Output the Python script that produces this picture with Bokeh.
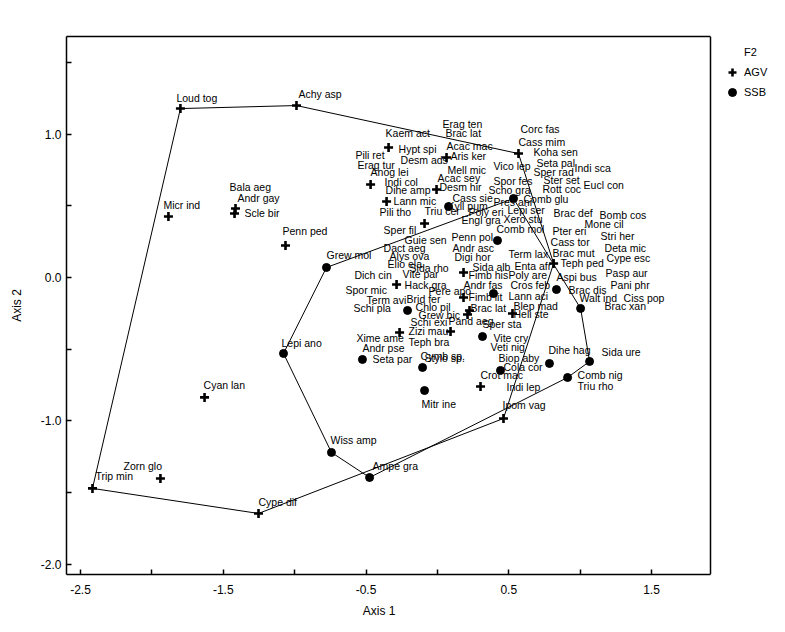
from bokeh.plotting import figure
from bokeh.models import (Range1d, FixedTicker, PrintfTickFormatter, Legend, LegendItem,
                          ColumnDataSource, LinearAxis, Span, Label, Title)
from bokeh.core.properties import value
from bokeh.embed import file_html
from bokeh.resources import INLINE

FONT = "Liberation Sans"

# ---- species labels (NMDS scores, Axis 1 / Axis 2) ----
SPECIES = [
    "Loud tog", "Achy asp", "Erag ten", "Corc fas", "Brac lat", "Kaem act", "Cass mim",
    "Acac mac", "Hypt spi", "Koha sen", "Pili ret", "Aris ker", "Desm ads", "Seta pal",
    "Erag tur", "Vico lep", "Indi sca", "Mell mic", "Anog lei", "Sper rad", "Acac sey",
    "Ster set", "Spor fes", "Indi col", "Eucl con", "Bala aeg", "Desm hir", "Rott coc",
    "Dihe amp", "Scho gra", "Andr gay", "Cass sie", "Comb glu", "Lann mic", "Pres ani",
    "Micr ind", "Kyll pum", "Lepi ser", "Triu cer", "Pili tho", "Poly eri", "Scle bir",
    "Brac def", "Bomb cos", "Xero stu", "Engl gra", "Mone cil", "Comb mol", "Sper fil",
    "Penn ped", "Pter eri", "Stri her", "Penn pol", "Guie sen", "Cass tor", "Dact aeg",
    "Andr asc", "Deta mic", "Brac mut", "Term lax", "Grew mol", "Alys ova", "Digi hor",
    "Cype esc", "Teph ped", "Elio ela", "Enta afr", "Sida alb", "Sida rho", "Pasp aur",
    "Vite par", "Dich cin", "Fimb his", "Poly are", "Aspi bus", "Hack gra", "Andr fas",
    "Cros feb", "Pani phr", "Spor mic", "Brac dis", "Pere apo", "Lann aci", "Fimb lit",
    "Walt ind", "Ciss pop", "Brid fer", "Term avi", "Brac xan", "Blep mad", "Chlo pil",
    "Schi pla", "Brac lat", "Heli ste", "Grew bic", "Pand aeg", "Schi exi", "Sper sta",
    "Zizi mau", "Xime ame", "Vite cry", "Teph bra", "Lepi ano", "Veti nig", "Andr pse",
    "Dihe hag", "Sida ure", "Cymb sp.", "Stylo sp.", "Biop aby", "Seta par", "Cola cor",
    "Crot mac", "Comb nig", "Cyan lan", "Triu rho", "Indi lep", "Mitr ine", "Ipom vag",
    "Wiss amp", "Zorn glo", "Ampe gra", "Trip min", "Cype dif",
]
SPECIES_AXIS1 = [
    -1.828, -0.973, 0.036, 0.582, 0.057, -0.363, 0.568,
    0.064, -0.272, 0.673, -0.574, 0.092, -0.258, 0.694,
    -0.560, 0.393, 0.961, 0.071, -0.468, 0.673, 0.001,
    0.743, 0.393, -0.370, 1.024, -1.456, 0.015, 0.736,
    -0.363, 0.358, -1.400, 0.106, 0.603, -0.307, 0.393,
    -1.919, 0.071, 0.491, -0.090, -0.405, 0.218, -1.351,
    0.814, 1.136, 0.463, 0.169, 1.031, 0.414, -0.377,
    -1.085, 0.807, 1.143, 0.099, -0.230, 0.793, -0.377,
    0.106, 1.171, 0.807, 0.498, -0.777, -0.335, 0.120,
    1.185, 0.863, -0.349, 0.540, 0.246, -0.195, 1.178,
    -0.244, -0.581, 0.218, 0.498, 0.834, -0.230, 0.183,
    0.512, 1.213, -0.644, 0.919, -0.062, 0.498, 0.218,
    0.996, 1.304, -0.216, -0.496, 1.171, 0.533, -0.153,
    -0.588, 0.232, 0.533, -0.132, 0.078, -0.188, 0.316,
    -0.202, -0.567, 0.393, -0.202, -1.092, 0.372, -0.525,
    0.778, 1.150, -0.118, -0.090, 0.428, -0.454, 0.463,
    0.302, 0.982, -1.638, 0.982, 0.484, -0.111, 0.456,
    -0.749, -2.199, -0.454, -2.395, -1.253,
]
SPECIES_AXIS2 = [
    1.256, 1.284, 1.068, 1.033, 1.005, 1.005, 0.949,
    0.921, 0.900, 0.879, 0.858, 0.851, 0.823, 0.796,
    0.782, 0.775, 0.761, 0.747, 0.733, 0.733, 0.691,
    0.677, 0.670, 0.663, 0.649, 0.635, 0.635, 0.621,
    0.614, 0.614, 0.558, 0.558, 0.551, 0.537, 0.530,
    0.509, 0.502, 0.468, 0.461, 0.454, 0.454, 0.447,
    0.447, 0.433, 0.405, 0.398, 0.370, 0.335, 0.328,
    0.321, 0.321, 0.293, 0.286, 0.265, 0.251, 0.209,
    0.209, 0.209, 0.174, 0.167, 0.154, 0.147, 0.140,
    0.133, 0.098, 0.091, 0.077, 0.070, 0.063, 0.028,
    0.021, 0.014, 0.014, 0.014, 0.000, -0.049, -0.049,
    -0.049, -0.049, -0.084, -0.084, -0.091, -0.126, -0.133,
    -0.140, -0.140, -0.147, -0.154, -0.202, -0.202, -0.209,
    -0.216, -0.216, -0.258, -0.265, -0.307, -0.314, -0.328,
    -0.370, -0.419, -0.419, -0.447, -0.454, -0.482, -0.495,
    -0.509, -0.523, -0.551, -0.565, -0.565, -0.572, -0.628,
    -0.684, -0.684, -0.747, -0.754, -0.761, -0.886, -0.893,
    -1.137, -1.319, -1.319, -1.389, -1.570,
]

# ---- sample points by group F2 ----
AGV_AXIS1 = [-1.800, -0.987, -1.884, -1.414, -1.421, -2.416, -1.940, -1.631, -1.253,
             -1.064, 0.463, 0.568, 0.814, -0.342, 0.064, -0.468, -0.006, -0.356,
             -0.090, 0.183, -0.286, 0.183, 0.225, 0.211, -0.265, 0.092, 0.526, 0.302]
AGV_AXIS2 = [1.179, 1.200, 0.426, 0.482, 0.447, -1.472, -1.403, -0.837, -1.647,
             0.223, -0.984, 0.865, 0.098, 0.907, 0.837, 0.649, 0.614, 0.530,
             0.377, 0.035, -0.049, -0.140, -0.230, -0.258, -0.384, -0.377, -0.251, -0.761]
SSB_AXIS1 = [-0.777, -1.078, -0.742, -0.475, 1.066, 0.912, 1.003, 0.834, 0.533, 0.078,
             0.421, 0.393, -0.209, 0.316, -0.525, -0.104, 0.785, 0.442, -0.090]
SSB_AXIS2 = [0.070, -0.530, -1.221, -1.396, -0.586, -0.698, -0.216, -0.084, 0.551, 0.495,
             0.258, -0.112, -0.230, -0.412, -0.572, -0.628, -0.600, -0.649, -0.789]
# outline (hull) of each group, as point indices in drawing order
AGV_HULL = [0, 1, 11, 12, 10, 8, 5, 0]
SSB_HULL = [0, 8, 6, 4, 5, 3, 2, 1, 0]

GROUPS = ["AGV", "SSB"]
X_TICKS = [-2.5, -1.5, -0.5, 0.5, 1.5]
X_MINOR = [-2.0, -1.0, 0.0, 1.0]
Y_TICKS = [-2.0, -1.0, 0.0, 1.0]
Y_MINOR = [-1.5, -0.5, 0.5, 1.5]
X_LIMITS = (-2.598, 1.913)
Y_LIMITS = (-2.073, 1.682)

# ---- layout (pixels) ----
FIG_W, FIG_H = 785, 632
LEFT, TOP, BOTTOM = 66, 36, 58
BOX_W = 644                      # width of the axis box; the legend sits to its right
FRAME_W = FIG_W - LEFT
FRAME_H = FIG_H - TOP - BOTTOM
X_VIEW_END = X_LIMITS[0] + (X_LIMITS[1] - X_LIMITS[0]) * FRAME_W / BOX_W
X_MID = X_LIMITS[0] + 0.485 * (X_LIMITS[1] - X_LIMITS[0])

p = figure(width=FIG_W, height=FIG_H, output_backend="svg", toolbar_location=None,
           x_range=Range1d(X_LIMITS[0], X_VIEW_END), y_range=Range1d(*Y_LIMITS),
           min_border_left=LEFT, min_border_right=0, min_border_top=TOP,
           min_border_bottom=BOTTOM)
p.background_fill_color = "white"
p.border_fill_color = "white"
p.grid.visible = False
p.outline_line_color = None

for ax, ticks, minor in ((p.xaxis, X_TICKS, X_MINOR), (p.yaxis, Y_TICKS, Y_MINOR)):
    ax.ticker = FixedTicker(ticks=ticks, minor_ticks=minor)
    ax.formatter = PrintfTickFormatter(format="%.1f")
    ax.major_label_text_font = FONT
    ax.major_label_text_font_size = "12px"
    ax.major_label_text_color = "black"
    ax.axis_line_color = "black"
    ax.axis_line_width = 1.5
    ax.major_tick_line_color = "black"
    ax.minor_tick_line_color = "black"
    ax.major_tick_line_width = 1.5
    ax.minor_tick_line_width = 1.5
    ax.major_tick_in = 5
    ax.major_tick_out = 0
    ax.minor_tick_in = 5
    ax.minor_tick_out = 0
p.xaxis.bounds = X_LIMITS
p.xaxis.major_label_standoff = 10
p.yaxis.major_label_standoff = 5
p.yaxis.axis_label = "Axis 2"
p.yaxis.axis_label_text_font = FONT
p.yaxis.axis_label_text_font_size = "12px"
p.yaxis.axis_label_text_font_style = "normal"
p.yaxis.axis_label_text_color = "black"
p.yaxis.axis_label_standoff = 14

# top edge and right edge of the axis box
top_axis = LinearAxis(ticker=FixedTicker(ticks=[]), bounds=X_LIMITS,
                      axis_line_color="black", axis_line_width=1.5,
                      major_tick_in=0, major_tick_out=0, minor_tick_in=0, minor_tick_out=0,
                      major_label_text_alpha=0)
p.add_layout(top_axis, "above")
p.add_layout(Span(location=X_LIMITS[1], dimension="height", line_color="black",
                  line_width=1.5))

# title and x-axis label
p.add_layout(Label(x=X_MID, y=Y_LIMITS[1], y_offset=18, text="NMDS", text_align="center",
                   text_baseline="middle", text_font=FONT, text_font_size="12px",
                   text_color="black"))
x_title = Title(text="Axis 1", align="left",
                offset=BOX_W * 0.485 - 16, text_font=FONT, text_font_size="12px",
                text_font_style="normal", text_color="black")
p.add_layout(x_title, "below")

# outlines of each group
for gx, gy, order in ((AGV_AXIS1, AGV_AXIS2, AGV_HULL), (SSB_AXIS1, SSB_AXIS2, SSB_HULL)):
    p.line([gx[i] for i in order], [gy[i] for i in order], line_color="black", line_width=1)

r_title = p.scatter(x=[], y=[], marker="circle", size=1, fill_alpha=0, line_alpha=0)
r_agv = p.scatter(x=AGV_AXIS1, y=AGV_AXIS2, marker="cross", size=9, line_width=2.6,
                  line_color="black")
r_ssb = p.scatter(x=SSB_AXIS1, y=SSB_AXIS2, marker="circle", size=8, fill_color="black",
                  line_color="black")

src = ColumnDataSource(dict(x=SPECIES_AXIS1, y=SPECIES_AXIS2, name=SPECIES))
p.text(x="x", y="y", text="name", source=src, text_font=value(FONT),
       text_font_size="10.5px", text_align="left", text_baseline="middle",
       text_color="#000000")

legend = Legend(items=[LegendItem(label="F2", renderers=[r_title]),
                       LegendItem(label=GROUPS[0], renderers=[r_agv]),
                       LegendItem(label=GROUPS[1], renderers=[r_ssb])],
                location=(BOX_W + 10, FRAME_H - 6 - 60),
                orientation="vertical", margin=0, padding=0,
                spacing=0, glyph_height=20, glyph_width=24, label_height=20,
                label_standoff=0, border_line_color=None, background_fill_alpha=0,
                label_text_font=FONT, label_text_font_size="11px",
                label_text_color="black")
p.add_layout(legend)

open("out.html", "w").write(file_html(p, INLINE))
